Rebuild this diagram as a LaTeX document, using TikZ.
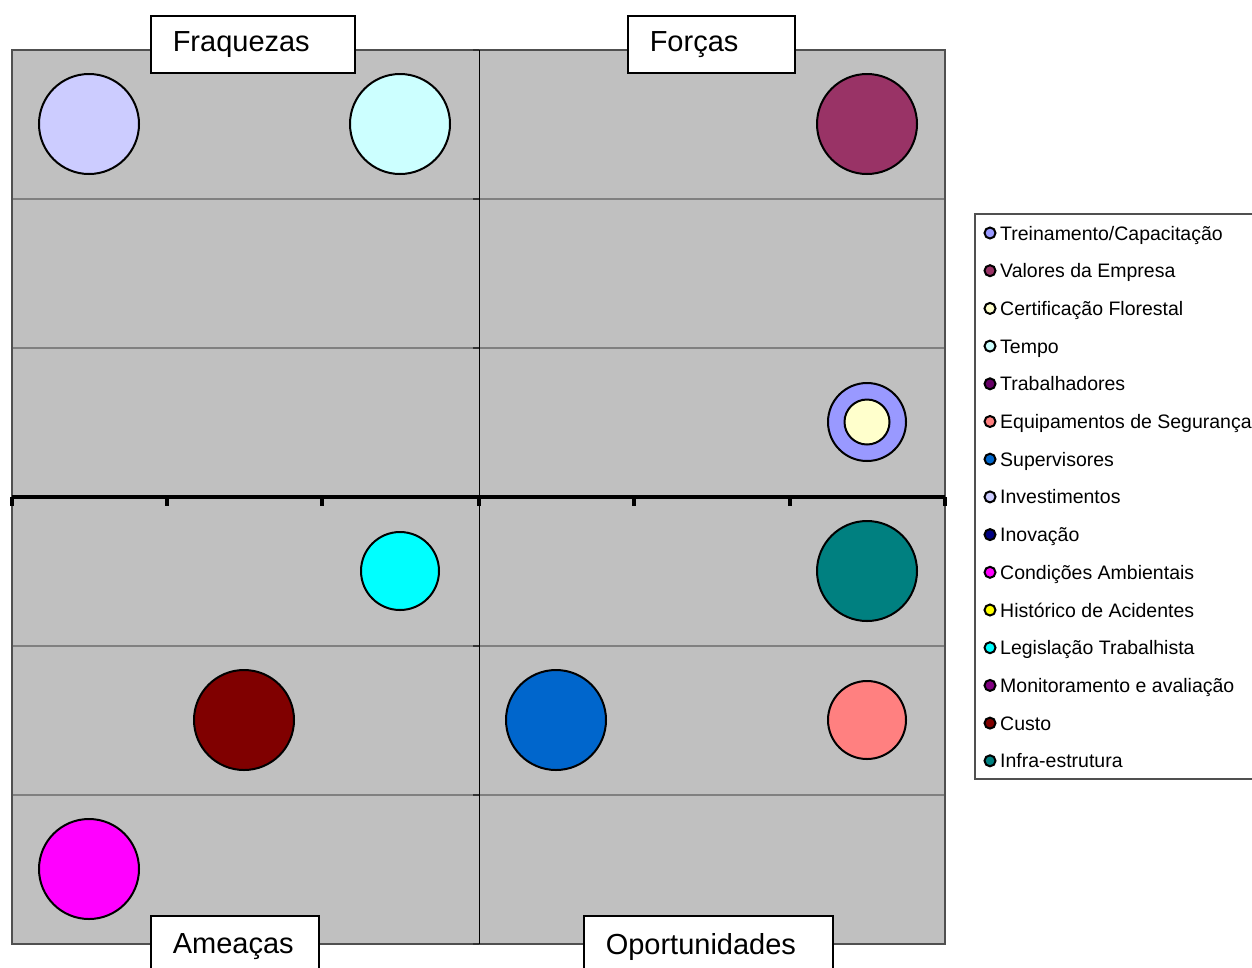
\documentclass[tikz,border=0pt]{standalone}
\usepackage{fontspec}
\setmainfont{Liberation Sans}
\definecolor{plotbg}{HTML}{C0C0C0}
\definecolor{gridc}{HTML}{808080}
\definecolor{framec}{HTML}{505050}
\definecolor{cTrein}{HTML}{9999FF}
\definecolor{cValor}{HTML}{993366}
\definecolor{cCert}{HTML}{FFFFCC}
\definecolor{cTempo}{HTML}{CCFFFF}
\definecolor{cTrab}{HTML}{660066}
\definecolor{cEquip}{HTML}{FF8080}
\definecolor{cSuper}{HTML}{0066CC}
\definecolor{cInvest}{HTML}{CCCCFF}
\definecolor{cInov}{HTML}{000080}
\definecolor{cCond}{HTML}{FF00FF}
\definecolor{cHist}{HTML}{FFFF00}
\definecolor{cLeg}{HTML}{00FFFF}
\definecolor{cMon}{HTML}{800080}
\definecolor{cCusto}{HTML}{800000}
\definecolor{cInfra}{HTML}{008080}
\tikzset{
  bubble/.style={circle, draw=black, line width=2pt, inner sep=0pt},
  quadlabel/.style={draw=black, fill=white, line width=1.5pt, font=\fontsize{29}{33}\selectfont, align=left, inner xsep=22pt, anchor=north west, minimum height=57pt},
  legmark/.style={circle, draw=black, line width=2pt, minimum size=11pt, inner sep=0pt},
  legtext/.style={anchor=base west, inner sep=0pt, font=\fontsize{19.5}{22}\selectfont},
  gridline/.style={draw=gridc, line width=1.5pt},
}
\begin{document}
\begin{tikzpicture}[x=1pt, y=-1pt]
\clip (0,0) rectangle (1252,967);
\fill[white] (0,0) rectangle (1252,967);
% plot area
\fill[plotbg] (12,50) rectangle (945,944);
\foreach \yy in {199,348,646,795} \draw[gridline] (12,\yy) -- (945,\yy);
\draw[framec, line width=1.5pt] (12,50) rectangle (945,944);
\coordinate (vtop) at (479,50);
\coordinate (vbot) at (479,944);
\draw[black, line width=1pt] (vtop) -- (vbot);
\foreach \yy in {50,199,348,646,795,944} \draw[black!80, line width=1.5pt] (473,\yy) -- (479,\yy);
\coordinate (hl) at (12,497);
\coordinate (hr) at (945,497);
\draw[black, line width=4pt] (hl) -- (hr);
\foreach \xx in {12,167,322,479,634,790,945} \draw[black, line width=4pt] (\xx,497) -- (\xx,506);
% bubbles
\node[bubble, fill=cInvest, minimum size=100pt] (investimentos) at (89,124) {};
\node[bubble, fill=cTempo, minimum size=100pt] (tempo) at (400,124) {};
\node[bubble, fill=cValor, minimum size=100pt] (valores) at (867,124) {};
\node[bubble, fill=cTrein, minimum size=78pt] (treinamento) at (867,422) {};
\node[bubble, fill=cCert, minimum size=45pt] (certificacao) at (867,422) {};
\node[bubble, fill=cLeg, minimum size=78pt] (legislacao) at (400,571) {};
\node[bubble, fill=cInfra, minimum size=100pt] (infra) at (867,571) {};
\node[bubble, fill=cCusto, minimum size=100pt] (custo) at (244,720) {};
\node[bubble, fill=cSuper, minimum size=100pt] (supervisores) at (556,720) {};
\node[bubble, fill=cEquip, minimum size=78pt] (equipamentos) at (867,720) {};
\node[bubble, fill=cCond, minimum size=100pt] (condicoes) at (89,869) {};
% quadrant labels
\node[quadlabel, text width=160pt] (fraquezas) at (150,15) {Fraquezas};
\node[quadlabel, text width=123pt] (forcas) at (627,15) {Forças};
\node[quadlabel, text width=124pt, minimum height=62pt] (ameacas) at (150,915) {Ameaças};
\node[quadlabel, text width=205pt, minimum height=62pt] (oportunidades) at (583,915) {Oportunidades};
% legend
\draw[framec, line width=1.2pt, fill=white] (975,214) rectangle (1270,779);
\foreach \col/\txt [count=\i from 0] in {
  cTrein/Treinamento\slash Capacitação,
  cValor/Valores da Empresa,
  cCert/Certificação Florestal,
  cTempo/Tempo,
  cTrab/Trabalhadores,
  cEquip/Equipamentos de Segurança,
  cSuper/Supervisores,
  cInvest/Investimentos,
  cInov/Inovação,
  cCond/Condições Ambientais,
  cHist/Histórico de Acidentes,
  cLeg/Legislação Trabalhista,
  cMon/Monitoramento e avaliação,
  cCusto/Custo,
  cInfra/Infra-estrutura} {
  \node[legmark, fill=\col] (lm\i) at (990, 233+37.7*\i) {};
  \node[legtext] (lt\i) at (1000, 240+37.7*\i) {\txt};
}
\end{tikzpicture}
\end{document}
